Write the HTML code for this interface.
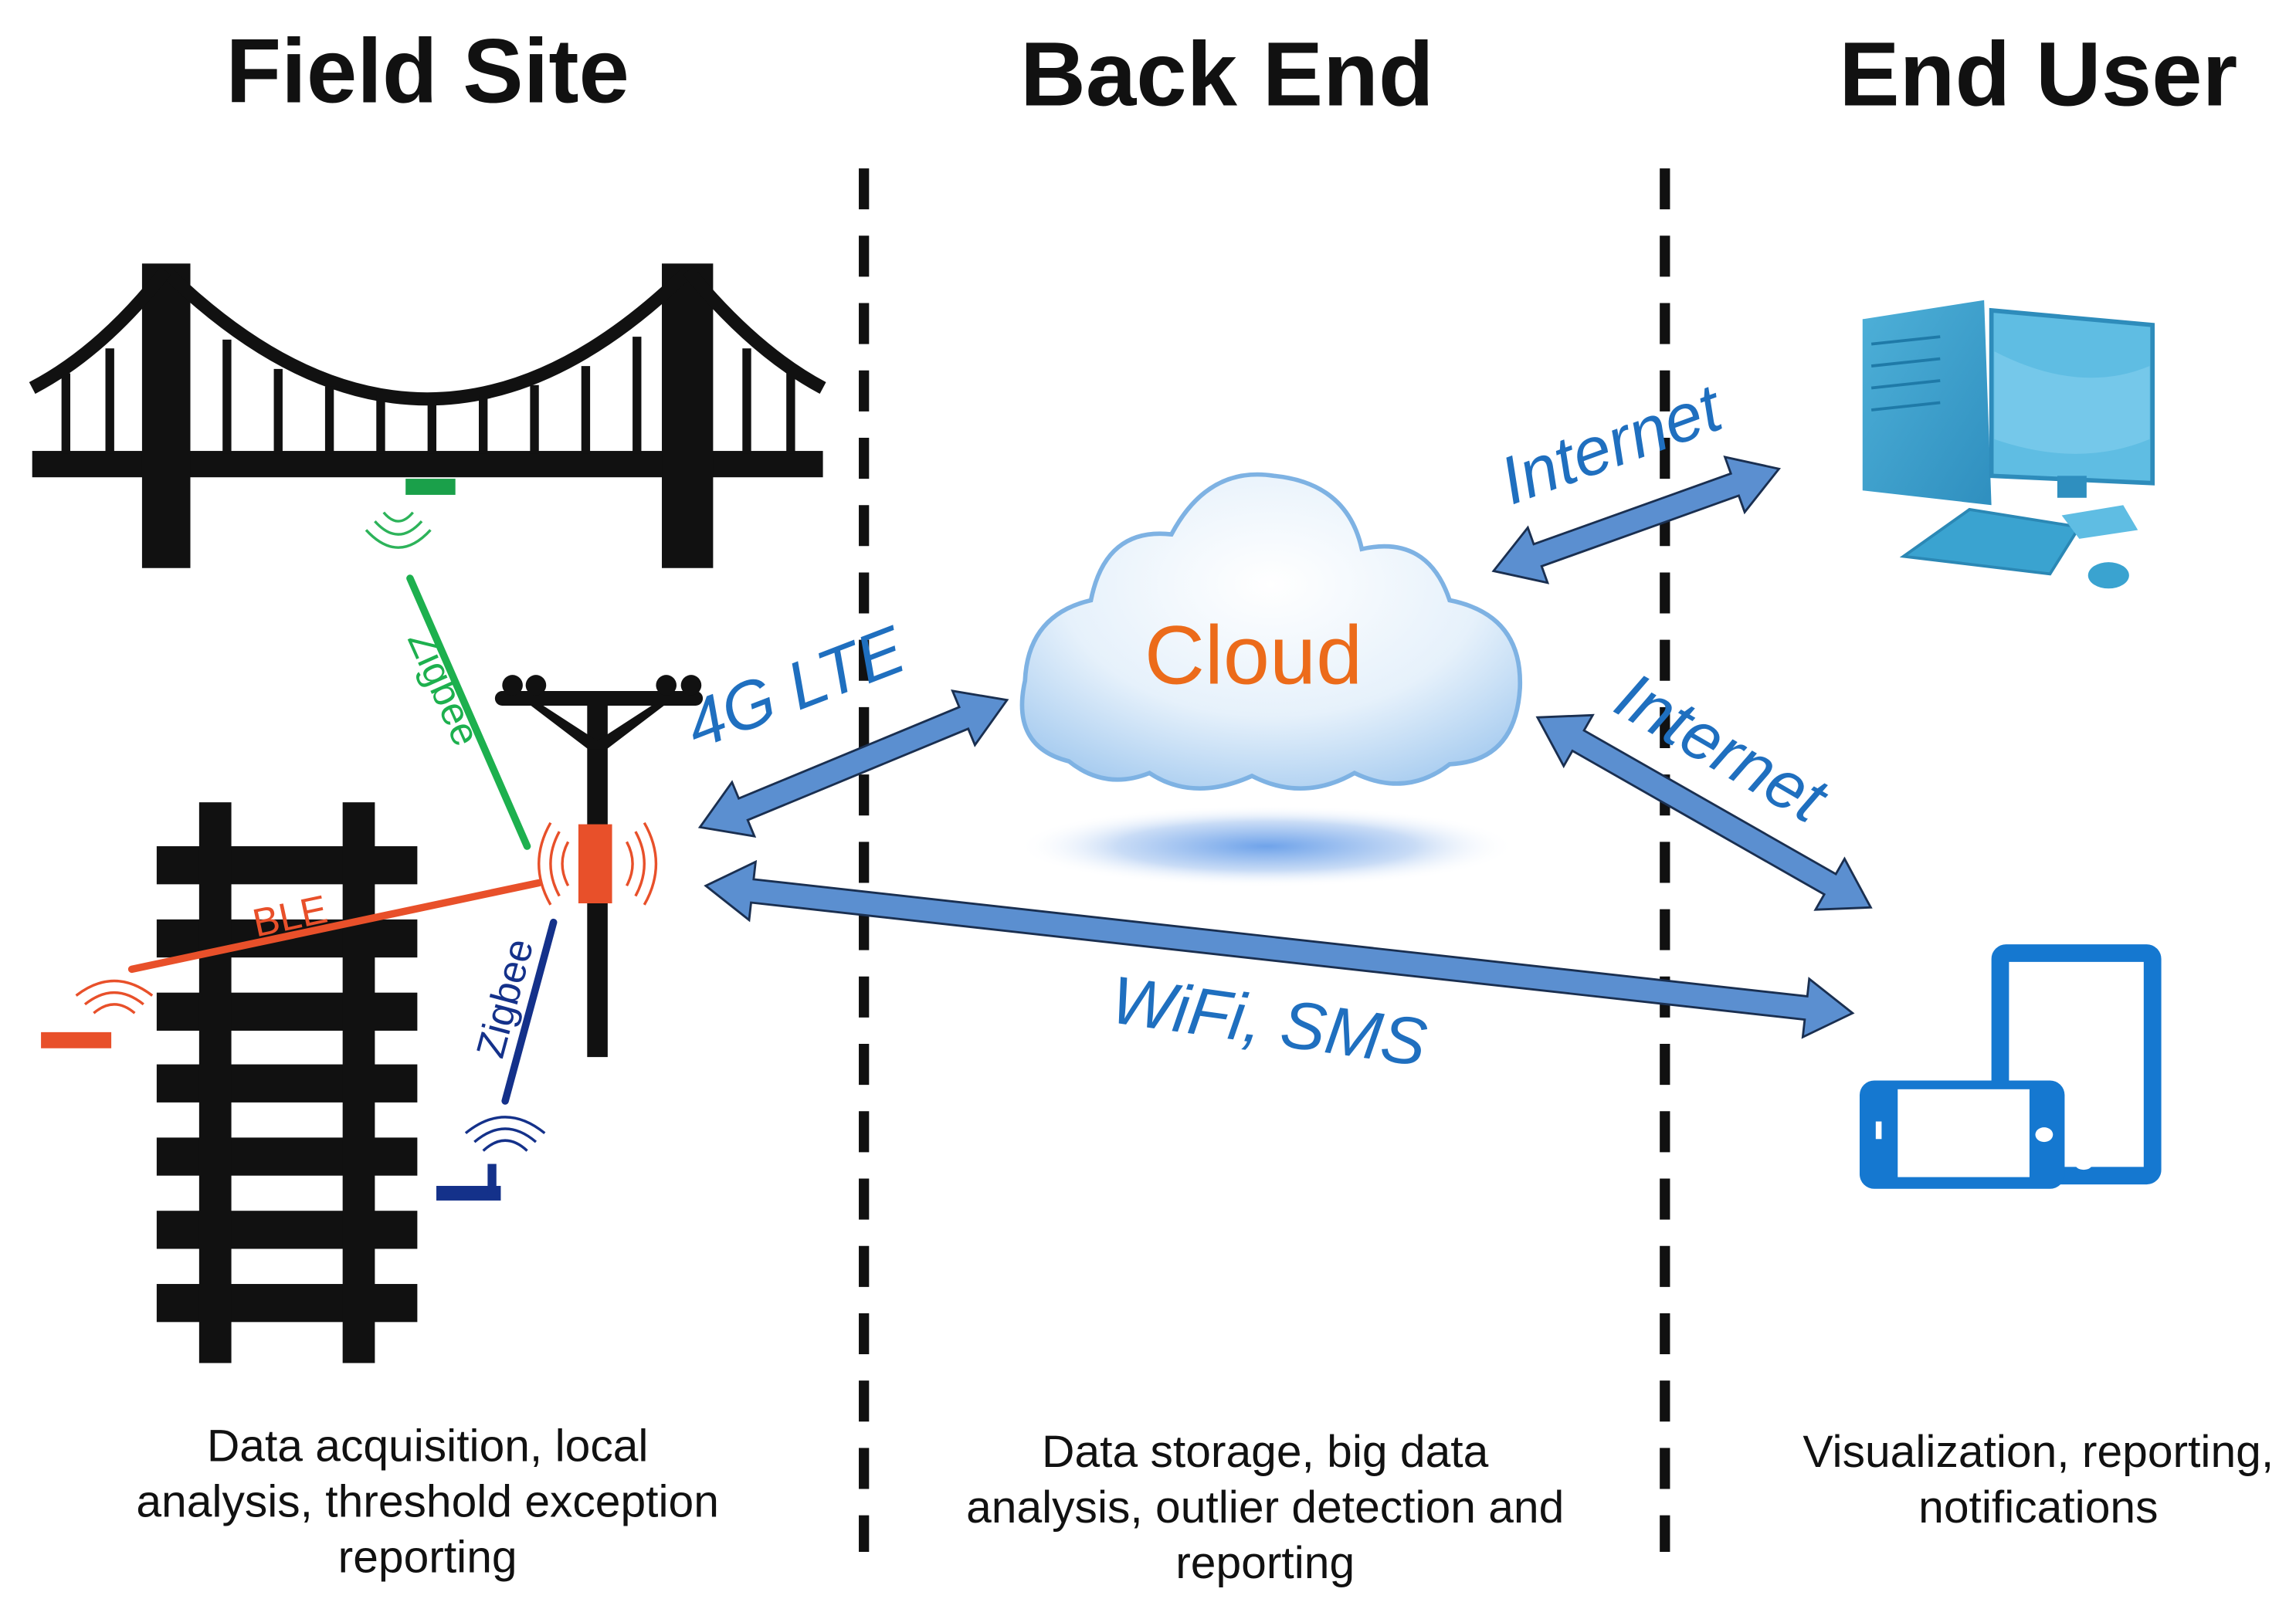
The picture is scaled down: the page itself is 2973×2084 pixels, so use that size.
<!DOCTYPE html>
<html><head><meta charset="utf-8"><style>
html,body{margin:0;padding:0;background:#fff;}
svg{display:block;}
</style></head><body>
<svg width="2973" height="2084" viewBox="0 0 1568 1099" preserveAspectRatio="none" xmlns="http://www.w3.org/2000/svg">
<defs>
<radialGradient id="cg" cx="0.5" cy="0.35" r="0.7">
<stop offset="0" stop-color="#ffffff"/><stop offset="0.6" stop-color="#e6f1fb"/><stop offset="1" stop-color="#a9cdf0"/>
</radialGradient>
<radialGradient id="sh" cx="0.5" cy="0.5" r="0.5">
<stop offset="0" stop-color="#6fa3ea"/><stop offset="0.6" stop-color="#c9dcf6"/><stop offset="1" stop-color="#ffffff" stop-opacity="0"/>
</radialGradient>
<linearGradient id="pc" x1="0" y1="0" x2="1" y2="1"><stop offset="0" stop-color="#4eb0d8"/><stop offset="1" stop-color="#2f8fbf"/></linearGradient>
</defs>
<rect width="1568" height="1099" fill="#fff"/>

<g font-family="Liberation Sans, sans-serif" font-weight="bold" font-size="62" fill="#111" text-anchor="middle">
<text x="292" y="70">Field Site</text>
<text x="838" y="72">Back End</text>
<text x="1392" y="72">End User</text>
</g>

<g stroke="#111" stroke-width="7" stroke-dasharray="28,18">
<line x1="590" y1="115" x2="590" y2="1060"/>
<line x1="1137" y1="115" x2="1137" y2="1060"/>
</g>

<g fill="#111" stroke="#111">
<rect x="22" y="308" width="540" height="18" stroke="none"/>
<rect x="97" y="180" width="33" height="208" stroke="none"/>
<rect x="452" y="180" width="35" height="208" stroke="none"/>
<path d="M113 185 Q292 360 470 185" fill="none" stroke-width="9"/>
<path d="M113 185 Q70 240 22 265" fill="none" stroke-width="9"/>
<path d="M470 185 Q515 240 562 265" fill="none" stroke-width="9"/>
<g stroke-width="6">
<line x1="155" y1="232" x2="155" y2="310"/><line x1="190" y1="252" x2="190" y2="310"/>
<line x1="225" y1="264" x2="225" y2="310"/><line x1="260" y1="270" x2="260" y2="310"/>
<line x1="295" y1="272" x2="295" y2="310"/><line x1="330" y1="270" x2="330" y2="310"/>
<line x1="365" y1="263" x2="365" y2="310"/><line x1="400" y1="250" x2="400" y2="310"/>
<line x1="435" y1="230" x2="435" y2="310"/>
<line x1="45" y1="255" x2="45" y2="310"/><line x1="75" y1="238" x2="75" y2="310"/>
<line x1="510" y1="238" x2="510" y2="310"/><line x1="540" y1="255" x2="540" y2="310"/>
</g>
</g>
<rect x="277" y="327" width="34" height="11" fill="#1aa04a"/>
<g fill="none" stroke="#2db35a" stroke-width="1.8">
<path d="M262 350 Q272 362 282 350"/><path d="M256 356 Q272 374 288 356"/><path d="M250 362 Q272 386 294 362"/>
</g>
<line x1="280" y1="395" x2="360" y2="578" stroke="#1db04e" stroke-width="5" stroke-linecap="round"/>
<text x="0" y="0" transform="translate(278,436) rotate(66)" font-family="Liberation Sans, sans-serif" font-size="27" fill="#1db04e">Zigbee</text>

<g fill="#111">
<rect x="107" y="578" width="178" height="26"/><rect x="107" y="628" width="178" height="26"/>
<rect x="107" y="678" width="178" height="26"/><rect x="107" y="727" width="178" height="26"/>
<rect x="107" y="777" width="178" height="26"/><rect x="107" y="827" width="178" height="26"/>
<rect x="107" y="877" width="178" height="26"/>
<rect x="136" y="548" width="22" height="383"/><rect x="234" y="548" width="22" height="383"/>
</g>

<g fill="#111">
<rect x="338" y="472" width="142" height="10" rx="5"/>
<circle cx="350" cy="468" r="7"/><circle cx="366" cy="468" r="7"/>
<circle cx="455" cy="468" r="7"/><circle cx="472" cy="468" r="7"/>
<rect x="401" y="480" width="14" height="242"/>
<path d="M360 480 L402 512 L414 512 L456 480 L448 480 L408 506 L368 480Z"/>
</g>
<rect x="395" y="563" width="23" height="54" fill="#e8502a"/>
<g fill="none" stroke="#e8502a" stroke-width="1.8">
<path d="M388 575 Q380 590 388 605"/><path d="M382 568 Q370 590 382 612"/><path d="M376 562 Q360 590 376 618"/>
<path d="M428 575 Q436 590 428 605"/><path d="M434 568 Q446 590 434 612"/><path d="M440 562 Q456 590 440 618"/>
</g>
<line x1="90" y1="662" x2="368" y2="603" stroke="#e8502a" stroke-width="5" stroke-linecap="round"/>
<text transform="translate(175,640) rotate(-12)" font-family="Liberation Sans, sans-serif" font-size="27" fill="#e8502a">BLE</text>
<rect x="28" y="705" width="48" height="11" fill="#e8502a"/>
<g fill="none" stroke="#e8502a" stroke-width="1.8">
<path d="M64 692 Q78 680 92 692"/><path d="M58 686 Q78 670 98 686"/><path d="M52 680 Q78 660 104 680"/>
</g>
<line x1="378" y1="630" x2="345" y2="752" stroke="#14318a" stroke-width="5" stroke-linecap="round"/>
<text transform="translate(343,724) rotate(-75)" font-family="Liberation Sans, sans-serif" font-size="27" fill="#14318a">Zigbee</text>
<rect x="298" y="810" width="44" height="10" fill="#14318a"/>
<rect x="333" y="795" width="6" height="20" fill="#14318a"/>
<g fill="none" stroke="#14318a" stroke-width="1.8">
<path d="M330 786 Q345 772 360 786"/><path d="M324 780 Q345 762 366 780"/><path d="M318 774 Q345 752 372 774"/>
</g>

<ellipse cx="865" cy="578" rx="170" ry="28" fill="url(#sh)"/>
<g fill="url(#cg)" stroke="#7eb2e3" stroke-width="3">
<path d="M730 520 Q690 510 700 465 Q702 420 745 410 Q755 360 800 365 Q825 318 870 325 Q920 330 930 375 Q975 365 990 410 Q1040 420 1038 470 Q1035 520 990 522 Q960 545 925 528 Q890 548 855 530 Q815 548 785 528 Q755 540 730 520Z"/>
</g>
<text x="856" y="467" text-anchor="middle" font-family="Liberation Sans, sans-serif" font-size="57" fill="#ec6b1a">Cloud</text>

<g fill="#5b8fd0" stroke="#1a2f50" stroke-width="1.5" stroke-linejoin="miter">
<g transform="translate(478,565) rotate(-22.5)"><polygon points="0,0 32,-20 32,-8 195,-8 195,-20 227,0 195,20 195,8 32,8 32,20"/></g>
<g transform="translate(1020,390) rotate(-19.7)"><polygon points="0,0 32,-20 32,-8 175,-8 175,-20 207,0 175,20 175,8 32,8 32,20"/></g>
<g transform="translate(1050,490) rotate(29.7)"><polygon points="0,0 32,-20 32,-8 230,-8 230,-20 262,0 230,20 230,8 32,8 32,20"/></g>
<g transform="translate(482,605) rotate(6.34)"><polygon points="0,0 32,-20 32,-8 756,-8 756,-20 788,0 756,20 756,8 32,8 32,20"/></g>
</g>
<g font-family="Liberation Sans, sans-serif" font-style="italic" font-size="46" fill="#1f6fbf">
<text transform="translate(476,512) rotate(-21)">4G LTE</text>
<text transform="translate(1032,345) rotate(-20)">Internet</text>
<text transform="translate(1100,485) rotate(30)">Internet</text>
<text transform="translate(757,698) rotate(8)">WiFi, SMS</text>
</g>

<g>
<path d="M1272 218 L1355 205 L1360 345 L1272 335Z" fill="url(#pc)"/>
<g stroke="#1f7aa8" stroke-width="2"><line x1="1278" y1="235" x2="1325" y2="230"/><line x1="1278" y1="250" x2="1325" y2="245"/><line x1="1278" y1="265" x2="1325" y2="260"/><line x1="1278" y1="280" x2="1325" y2="275"/></g>
<path d="M1360 212 L1470 222 L1470 330 L1360 325Z" fill="#5fbde3" stroke="#2e8cbb" stroke-width="3"/>
<path d="M1362 240 Q1420 270 1468 250 L1468 300 Q1420 320 1362 300Z" fill="#7fcdec" opacity="0.7"/>
<rect x="1405" y="325" width="20" height="15" fill="#2f8fbf"/>
<path d="M1300 380 L1345 348 L1420 360 L1400 392Z" fill="#3aa3d0" stroke="#2b88b5" stroke-width="2"/>
<path d="M1408 352 L1450 345 L1460 362 L1420 368Z" fill="#5fbde3"/>
<ellipse cx="1440" cy="393" rx="14" ry="9" fill="#3aa3d0"/>
</g>

<g fill="none" stroke="#1578d0">
<rect x="1366" y="651" width="104" height="152" rx="4" stroke-width="12"/>
</g>
<rect x="1270" y="738" width="140" height="74" rx="10" fill="#1578d0"/>
<rect x="1296" y="744" width="90" height="60" fill="#fff"/>
<rect x="1281" y="766" width="4" height="12" fill="#fff"/>
<ellipse cx="1396" cy="775" rx="6" ry="5" fill="#fff"/>
<ellipse cx="1423" cy="795" rx="6" ry="4" fill="#fff"/>

<g font-family="Liberation Sans, sans-serif" font-size="31" fill="#111" text-anchor="middle">
<text x="292" y="998">Data acquisition, local</text>
<text x="292" y="1036">analysis, threshold exception</text>
<text x="292" y="1074">reporting</text>
<text x="864" y="1002">Data storage, big data</text>
<text x="864" y="1040">analysis, outlier detection and</text>
<text x="864" y="1078">reporting</text>
<text x="1392" y="1002">Visualization, reporting,</text>
<text x="1392" y="1040">notifications</text>
</g>
</svg>
</body></html>
